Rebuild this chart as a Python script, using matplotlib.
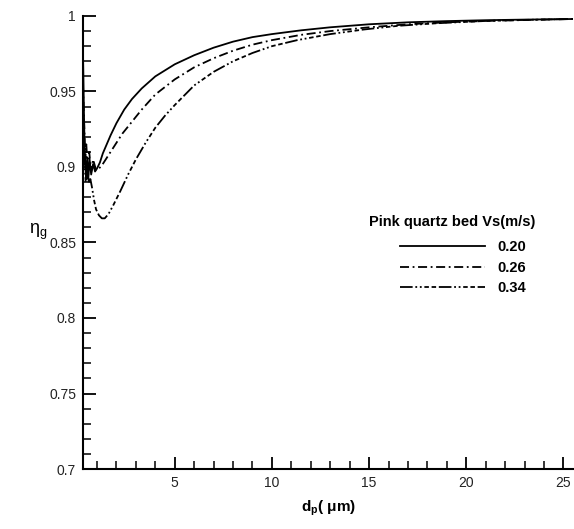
import matplotlib
matplotlib.use("Agg")
import matplotlib.pyplot as plt
from matplotlib.ticker import MultipleLocator, FuncFormatter
from matplotlib.lines import Line2D

plt.rcParams['font.family'] = ['Liberation Sans', 'DejaVu Sans']
plt.rcParams['mathtext.fontset'] = 'custom'
plt.rcParams['mathtext.rm'] = 'Liberation Sans'
plt.rcParams['mathtext.it'] = 'Liberation Sans'
plt.rcParams['mathtext.bf'] = 'Liberation Sans:bold'

# data
x_020 = [0.28, 0.30, 0.33, 0.36, 0.40, 0.45, 0.50, 0.55, 0.62, 0.70, 0.80, 0.90, 1.0, 1.15, 1.3, 1.5,
         1.7, 2.0, 2.4, 2.8, 3.3, 4.0, 5.0, 6.0, 7.0, 8.0, 9.0, 10.0, 11.5, 13.0, 15.0, 17.0, 19.0,
         21.0, 23.0, 25.5]
y_020 = [0.975, 0.960, 0.935, 0.915, 0.900, 0.892, 0.906, 0.892, 0.905, 0.895, 0.902, 0.897, 0.899,
         0.903, 0.909, 0.915, 0.921, 0.929, 0.938, 0.945, 0.952, 0.960, 0.968, 0.974, 0.979, 0.983,
         0.986, 0.988, 0.9905, 0.9925, 0.9945, 0.9958, 0.9966, 0.9972, 0.9976, 0.998]

x_026 = [0.28, 0.31, 0.35, 0.40, 0.45, 0.52, 0.60, 0.70, 0.80, 0.95, 1.1, 1.25, 1.4, 1.6, 1.9, 2.3,
         2.8, 3.3, 4.0, 5.0, 6.0, 7.0, 8.0, 9.0, 10.0, 11.5, 13.0, 15.0, 17.0, 19.0, 21.0, 23.0, 25.5]
y_026 = [0.955, 0.940, 0.925, 0.905, 0.915, 0.900, 0.910, 0.897, 0.905, 0.898, 0.899, 0.901, 0.904,
         0.908, 0.914, 0.922, 0.930, 0.938, 0.948, 0.958, 0.966, 0.972, 0.977, 0.981, 0.984, 0.9875,
         0.990, 0.9925, 0.9945, 0.9958, 0.9967, 0.9973, 0.998]

x_034 = [0.28, 0.32, 0.37, 0.42, 0.50, 0.58, 0.66, 0.75, 0.85, 0.95, 1.1, 1.25, 1.4, 1.6, 1.85, 2.2,
         2.6, 3.0, 3.5, 4.0, 4.5, 5.0, 6.0, 7.0, 8.0, 9.0, 10.0, 11.3, 13.0, 14.7, 16.5, 18.5, 21.0,
         23.0, 25.5]
y_034 = [0.935, 0.915, 0.900, 0.890, 0.905, 0.889, 0.892, 0.886, 0.878, 0.872, 0.868, 0.866, 0.866,
         0.869, 0.875, 0.884, 0.895, 0.905, 0.916, 0.926, 0.934, 0.941, 0.954, 0.963, 0.970, 0.9755,
         0.980, 0.984, 0.988, 0.991, 0.9935, 0.9952, 0.9967, 0.9974, 0.998]

labels = ["0.20", "0.26", "0.34"]

fig = plt.figure(figsize=(5.74, 5.29), dpi=100)
ax = fig.add_axes([0.1446, 0.1134, 0.854, 0.8564])

lw = 1.3
ls_026 = (0, (5, 2, 1, 2))
ls_034 = (0, (7, 1.5, 1, 1.5, 1, 1.5, 2.5, 1.5, 2.5, 1.5))
ax.plot(x_020, y_020, color="black", lw=lw, linestyle="-")
ax.plot(x_026, y_026, color="black", lw=lw, linestyle=ls_026)
ax.plot(x_034, y_034, color="black", lw=lw, linestyle=ls_034)

ax.set_xlim(0.28, 25.5)
ax.set_ylim(0.7, 1.0)

for s in ["top", "right"]:
    ax.spines[s].set_visible(False)
for s in ["left", "bottom"]:
    ax.spines[s].set_linewidth(1.5)

ax.xaxis.set_major_locator(MultipleLocator(5))
ax.xaxis.set_minor_locator(MultipleLocator(1))
ax.yaxis.set_major_locator(MultipleLocator(0.05))
ax.yaxis.set_minor_locator(MultipleLocator(0.01))
ax.yaxis.set_major_formatter(FuncFormatter(lambda v, p: "%g" % round(v, 3)))
ax.tick_params(which="major", direction="in", length=9, width=1.3, labelsize=10, pad=5,
               labelcolor="#222222")
ax.tick_params(which="minor", direction="in", length=5.5, width=1.1)

ax.set_xlabel(r"$\mathbf{d_p}$( μm)", fontsize=11, fontweight="bold", labelpad=6)
ax.set_ylabel(r"$\eta_g$", fontsize=13, rotation=0, labelpad=8)

ax.text(0.753, 0.545, "Pink quartz bed Vs(m/s)", transform=ax.transAxes,
        ha="center", va="center", fontsize=10.5, fontweight="bold")

handles = [
    Line2D([], [], color="black", lw=lw, linestyle="-"),
    Line2D([], [], color="black", lw=lw, linestyle=ls_026),
    Line2D([], [], color="black", lw=lw, linestyle=ls_034),
]
ax.legend(handles, labels, loc="upper left", bbox_to_anchor=(0.647, 0.505), frameon=False,
          borderpad=0, borderaxespad=0, handlelength=5.8, handletextpad=0.9,
          labelspacing=0.45, prop={"weight": "bold", "size": 10.5})

fig.savefig("out.png", dpi=100)
